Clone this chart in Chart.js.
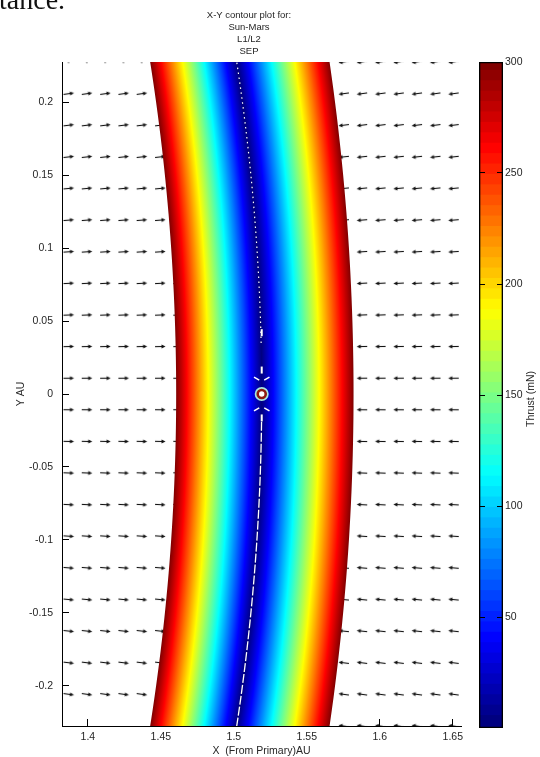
<!DOCTYPE html>
<html><head><meta charset="utf-8">
<script src="https://cdn.jsdelivr.net/npm/chart.js@4/dist/chart.umd.min.js"></script>
<style>
html,body{margin:0;padding:0;background:#fff;overflow:hidden}
#wrap{position:relative;width:540px;height:757px;overflow:hidden}
canvas{position:absolute;top:0}
#main{left:0}
#cbar{left:470px}
.t{position:absolute;font-family:"Liberation Sans",Arial,sans-serif;color:#262626;white-space:nowrap}
</style></head><body>
<div id="wrap">
<canvas id="main" width="540" height="757"></canvas>
<canvas id="cbar" width="70" height="757"></canvas>
<div class="t" style="font-family:'Liberation Serif','Times New Roman',serif;font-size:28px;line-height:28px;left:-1px;top:-14px;color:#111">tance.</div>
<div class="t" style="left:149px;width:200px;text-align:center;top:9px;font-size:9.5px;line-height:11.9px">X-Y contour plot for:<br>Sun-Mars<br>L1/L2<br>SEP</div>
<div class="t" style="left:480px;top:392px;width:100px;height:14px;line-height:14px;text-align:center;font-size:10.5px;transform:rotate(-90deg);transform-origin:50% 50%">Thrust (mN)</div>
</div>
<script>
// ================= DATA =================
const xLimits = [1.3823, 1.6556];                 // AU
const yLimits = [-0.2274, 0.2274];                // AU
const xTicks = [1.4, 1.45, 1.5, 1.55, 1.6, 1.65];
const yTicks = [-0.2, -0.15, -0.1, -0.05, 0, 0.05, 0.1, 0.15, 0.2];
const colorbarTicks = [50, 100, 150, 200, 250, 300];
const thrustRange = [0, 300];                     // mN

// contour band: heliocentric radius (AU) vs thrust (mN)
const bandRadiusAU = [1.4605, 1.4898, 1.5191, 1.5506, 1.5820];
const bandThrustMN = [300, 150, 0, 150, 300];

// zero-thrust (Mars orbit) line and Mars marker
const zeroThrustRadiusAU = 1.5191;
const marsPosition = [1.5191, 0];
const marsMarksY = [0.042, 0.0164, -0.0164];      // white dashes along the orbit near Mars
const marsChevronY = [0.0105, -0.0105];

// quiver grid
const quiverX = [1.3871, 1.3996, 1.4122, 1.4247, 1.4372, 1.4498, 1.4623, 1.4748, 1.4874, 1.4999, 1.5124,
                 1.5250, 1.5375, 1.5500, 1.5626, 1.5751, 1.5876, 1.6002, 1.6127, 1.6252, 1.6378, 1.6503];
const quiverY = [0.2274, 0.2057, 0.1841, 0.1624, 0.1408, 0.1191, 0.0974, 0.0758, 0.0541, 0.0325, 0.0108,
                 -0.0108, -0.0325, -0.0541, -0.0758, -0.0974, -0.1191, -0.1408, -0.1624, -0.1841, -0.2057, -0.2274];
// arrow tilt per row (deg, radial direction)
const arrowTiltDeg = [8.6, 7.8, 7.0, 6.2, 5.4, 4.5, 3.7, 2.9, 2.1, 1.2, 0.4,
                      -0.4, -1.2, -2.1, -2.9, -3.7, -4.5, -5.4, -6.2, -7.0, -7.8, -8.6];
// relative arrow size per row, inner (left) and outer (right) side
const arrowSizeInner = [0.2, 1,1,1,1,1,1,1,1,1,1, 1,1,1,1,1,1,1,1,1,1, 0];
const arrowSizeOuter = [1, 1,1,1,1,1,1,1,1,1,1, 1,1,1,1,1,1,1,1,1,1, 1];

// ================= helpers =================
const FONT = "'Liberation Sans', Arial, sans-serif";
const TXT = '#262626';
function jet(t){
  t = Math.max(0, Math.min(1, t));
  const c = v => Math.round(255 * Math.max(0, Math.min(1, v)));
  return `rgb(${c(Math.min(4*t-1.5, -4*t+4.5))},${c(Math.min(4*t-0.5, -4*t+3.5))},${c(Math.min(4*t+0.5, -4*t+2.5))})`;
}
function arc(r, y0, y1, n){
  const pts = [];
  for (let i = 0; i <= n; i++){ const y = y0 + (y1 - y0) * i / n; pts.push({x: Math.sqrt(r*r - y*y), y}); }
  return pts;
}
function makeArrow(scale){
  const c = document.createElement('canvas');
  const L = Math.max(2, Math.round(10 * scale));
  c.width = L + 3; c.height = 7;
  const g = c.getContext('2d');
  if (scale < 0.5){
    g.fillStyle = '#9a9a9a'; g.fillRect(1, 2.5, 2, 2); return c;
  }
  g.strokeStyle = '#111'; g.fillStyle = '#111'; g.lineWidth = 1.1;
  g.beginPath(); g.moveTo(1, 3.5); g.lineTo(L - 1, 3.5); g.stroke();
  g.beginPath(); g.moveTo(L + 1.5, 3.5); g.lineTo(L - 2.5, 1.6); g.lineTo(L - 2.5, 5.4); g.closePath(); g.fill();
  return c;
}
const arrowImgs = {};
function arrowImg(s){ return arrowImgs[s] || (arrowImgs[s] = makeArrow(s)); }

// quiver points
const quiverPts = [];
quiverY.forEach((y, r) => {
  quiverX.forEach(x => {
    const inner = x < Math.sqrt(zeroThrustRadiusAU*zeroThrustRadiusAU - y*y);
    const s = inner ? arrowSizeInner[r] : arrowSizeOuter[r];
    if (s <= 0) return;
    quiverPts.push({x, y, rot: inner ? -arrowTiltDeg[r] : 180 - arrowTiltDeg[r], s});
  });
});

const rIn = bandRadiusAU[0], rOut = bandRadiusAU[bandRadiusAU.length - 1];
const rMid = (rIn + rOut) / 2;

function bandGradient(ctx){
  const ch = ctx.chart, xs = ch.scales.x, ys = ch.scales.y;
  if (!ch.chartArea || !xs || !ys) return 'red';
  const cx = xs.getPixelForValue(0), cy = ys.getPixelForValue(0);
  const p0 = xs.getPixelForValue(rIn) - cx, p1 = xs.getPixelForValue(rOut) - cx;
  const g = ch.ctx.createRadialGradient(cx, cy, p0, cx, cy, p1);
  for (let i = 0; i < bandRadiusAU.length - 1; i++){
    const K = 40;
    for (let k = 0; k <= K; k++){
      const f = k / K;
      const r = bandRadiusAU[i] + (bandRadiusAU[i+1] - bandRadiusAU[i]) * f;
      const T = bandThrustMN[i] + (bandThrustMN[i+1] - bandThrustMN[i]) * f;
      g.addColorStop(Math.max(0, Math.min(1, (r - rIn) / (rOut - rIn))), jet((T - thrustRange[0]) / (thrustRange[1] - thrustRange[0])));
    }
  }
  return g;
}
function bandWidth(ctx){
  const xs = ctx.chart.scales.x;
  if (!xs) return 178;
  return xs.getPixelForValue(rOut) - xs.getPixelForValue(rIn);
}
const fmt = v => String(+v.toFixed(2));

// ================= main chart =================
new Chart(document.getElementById('main'), {
  type: 'scatter',
  data: {
    datasets: [
      { // Mars ring
        order: 0, data: [{x: marsPosition[0], y: marsPosition[1]}],
        pointRadius: 4, pointBackgroundColor: '#ffffff', pointBorderColor: '#8e1b12', pointBorderWidth: 2.6
      },
      { // halo around Mars
        order: 1, data: [{x: marsPosition[0], y: marsPosition[1]}],
        pointRadius: 7, pointBackgroundColor: '#a6e6e0', pointBorderWidth: 0
      },
      { // white dashes near Mars
        order: 1, data: marsMarksY.map(y => ({x: marsPosition[0], y})),
        pointStyle: 'line', rotation: 90, pointRadius: 3.5, pointBorderColor: '#ffffff', pointBorderWidth: 2
      },
      { // white chevrons near Mars
        order: 1,
        data: marsChevronY.flatMap(y => [{x: marsPosition[0] - 0.0035, y, r: y > 0 ? 30 : -30}, {x: marsPosition[0] + 0.0035, y, r: y > 0 ? -30 : 30}]),
        pointStyle: 'line', rotation: c => c.raw ? c.raw.r : 0, pointRadius: 3, pointBorderColor: '#ffffff', pointBorderWidth: 1.5
      },
      { // zero-thrust line, upper part (dotted)
        type: 'line', order: 2, data: arc(zeroThrustRadiusAU, 0.035, 0.30, 40),
        borderColor: '#ffffff', borderWidth: 1.2, borderDash: [1.5, 3.5], pointRadius: 0, tension: 0, clip: 0, fill: false
      },
      { // zero-thrust line, lower part
        type: 'line', order: 2, data: arc(zeroThrustRadiusAU, -0.019, -0.30, 40),
        borderColor: '#ffffff', borderWidth: 1.3, borderDash: [9, 2], pointRadius: 0, tension: 0, clip: 0, fill: false
      },
      { // thrust contour band (long dash = solid, avoids the x-sorted fast path)
        type: 'line', order: 3, data: arc(rMid, -0.32, 0.32, 80),
        borderColor: bandGradient, borderWidth: bandWidth, borderCapStyle: 'butt', borderJoinStyle: 'round',
        borderDash: [6000, 1], pointRadius: 0, tension: 0, clip: 0, fill: false
      },
      { // quiver
        order: 4, data: quiverPts,
        pointStyle: c => arrowImg(c.raw ? c.raw.s : 1), rotation: c => c.raw ? c.raw.rot : 0, pointRadius: 5
      }
    ]
  },
  options: {
    responsive: false, animation: false, events: [],
    layout: {padding: {left: 0, top: 62, right: 79, bottom: 0}},
    plugins: {legend: {display: false}, tooltip: {enabled: false}, title: {display: false}},
    scales: {
      x: {
        type: 'linear', position: 'bottom', min: xLimits[0], max: xLimits[1],
        afterBuildTicks: s => { s.ticks = xTicks.map(v => ({value: v})); },
        afterFit: s => { s.height = 31; },
        grid: {drawOnChartArea: false, drawTicks: true, tickLength: -7, color: '#000', lineWidth: 1},
        border: {display: true, color: '#000', width: 1},
        ticks: {color: TXT, font: {family: FONT, size: 10.5}, padding: 12, maxRotation: 0, autoSkip: false, callback: v => fmt(v)},
        title: {display: true, text: 'X  (From Primary)AU', color: TXT, font: {family: FONT, size: 10.5}, padding: {top: 0, bottom: 0}}
      },
      y: {
        type: 'linear', position: 'left', min: yLimits[0], max: yLimits[1],
        afterBuildTicks: s => { s.ticks = yTicks.map(v => ({value: v})); },
        afterFit: s => { s.width = 62; },
        grid: {drawOnChartArea: false, drawTicks: true, tickLength: -7, color: '#000', lineWidth: 1},
        border: {display: true, color: '#000', width: 1},
        ticks: {color: TXT, font: {family: FONT, size: 10.5}, padding: 16, autoSkip: false, callback: v => fmt(v)},
        title: {display: true, text: 'Y AU', color: TXT, font: {family: FONT, size: 10.5}, padding: {top: 14.5, bottom: 0}}
      }
    }
  }
});

// ================= colour bar =================
const NLEV = 64;
const step = (thrustRange[1] - thrustRange[0]) / NLEV;
const cbSets = [{
  order: -1, data: [[thrustRange[0], thrustRange[1]]], backgroundColor: 'rgba(0,0,0,0)',
  borderColor: '#000', borderWidth: 1, borderSkipped: false, grouped: false, barPercentage: 1, categoryPercentage: 1, clip: 0
}];
for (let i = 0; i < NLEV; i++){
  cbSets.push({
    order: i, data: [[thrustRange[0] + i*step, thrustRange[0] + (i+1)*step + (i < NLEV-1 ? 1 : 0)]],
    backgroundColor: jet(i / (NLEV - 1)), borderWidth: 0, grouped: false, barPercentage: 1, categoryPercentage: 1, clip: 0
  });
}
new Chart(document.getElementById('cbar'), {
  type: 'bar',
  data: {labels: [''], datasets: cbSets},
  options: {
    responsive: false, animation: false, events: [],
    layout: {padding: {left: 9, top: 62, bottom: 29, right: 0}},
    plugins: {legend: {display: false}, tooltip: {enabled: false}},
    scales: {
      x: {display: false, offset: true},
      y: {
        position: 'right', min: thrustRange[0], max: thrustRange[1],
        afterBuildTicks: s => { s.ticks = colorbarTicks.map(v => ({value: v})); },
        afterFit: s => { s.width = 37; },
        grid: {drawOnChartArea: false, drawTicks: true, tickLength: -6, color: '#000', z: 1},
        border: {display: false},
        ticks: {color: TXT, font: {family: FONT, size: 10.5}, padding: 8}
      },
      yl: {
        position: 'left', min: thrustRange[0], max: thrustRange[1],
        afterBuildTicks: s => { s.ticks = colorbarTicks.map(v => ({value: v})); },
        afterFit: s => { s.width = 0; },
        grid: {drawOnChartArea: false, drawTicks: true, tickLength: -6, color: '#000', z: 1},
        border: {display: false},
        ticks: {display: false}
      }
    }
  }
});
</script>
</body></html>
